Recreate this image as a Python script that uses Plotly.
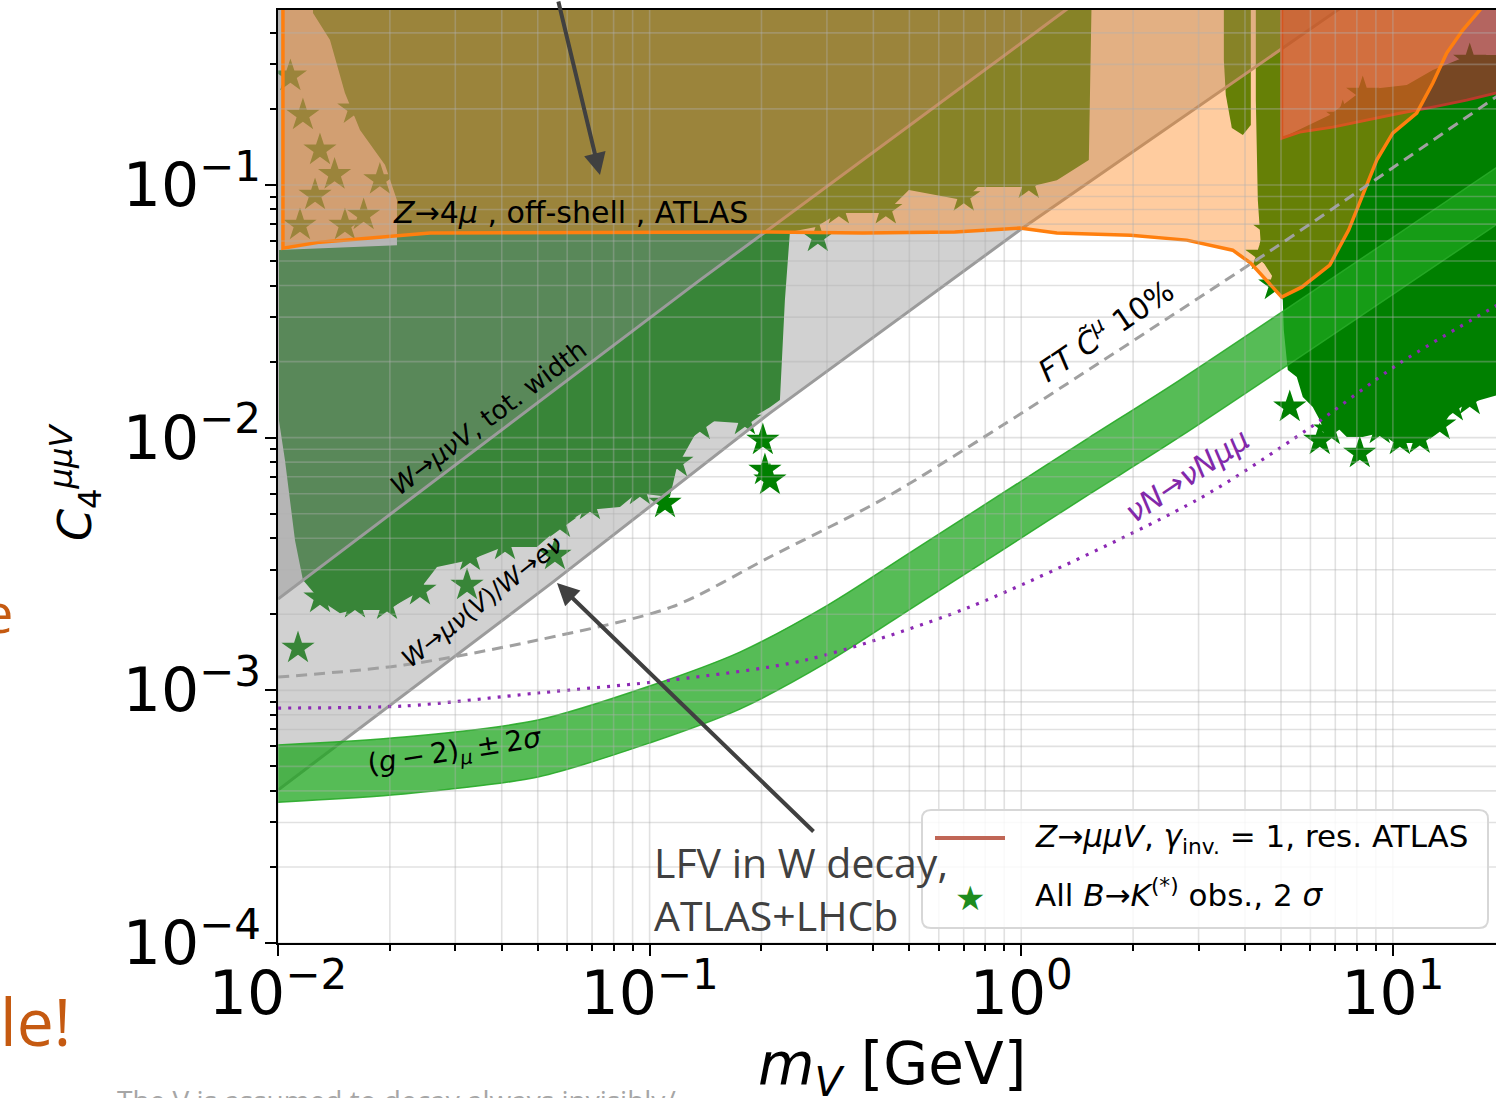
import numpy as np
import plotly.graph_objects as go

# ---------------- data (m_V in GeV, C4 dimensionless) ----------------
# W -> mu nu(V) / W -> e nu  (lower grey line)
w_ratio_m = [0.01, 0.0549, 0.2106, 0.991, 7.10, 20.0]
w_ratio_c = [4.03e-4, 2.68e-3, 1.251e-2, 6.63e-2, 0.492, 1.42]
# W -> mu nu V, total width (upper grey line)
w_width_m = [0.01, 0.1365, 1.285, 5.0]
w_width_c = [2.297e-3, 4.20e-2, 0.479, 2.13]
# fine tuning C~mu 10% (dashed)
ft_m = [0.01, 0.02183, 0.05006, 0.1148, 0.2106, 0.4296, 0.8752, 4.575, 8.77, 20.0]
ft_c = [1.128e-3, 1.259e-3, 1.581e-3, 2.138e-3, 3.37e-3, 5.77e-3, 1.101e-2, 5.37e-2, 0.1026, 0.2355]
# nu N -> nu N mu mu (dotted)
nu_m = [0.01, 0.02183, 0.05006, 0.1148, 0.2632, 0.7270, 2.966, 5.86, 10.43, 20.0]
nu_c = [8.51e-4, 8.67e-4, 9.76e-4, 1.099e-3, 1.318e-3, 2.138e-3, 5.66e-3, 1.072e-2, 1.972e-2, 3.48e-2]
# (g-2)_mu +- 2 sigma band
g2_m = [0.01, 0.02183, 0.05006, 0.1, 0.1749, 0.3016, 0.5140, 0.8752, 1.5295, 2.669, 20.0]
g2_hi = [6.07e-4, 6.53e-4, 7.63e-4, 1.040e-3, 1.417e-3, 2.175e-3, 3.59e-3, 5.93e-3, 1.0055e-2, 1.690e-2, 0.1234]
g2_lo = [3.61e-4, 3.89e-4, 4.54e-4, 6.19e-4, 8.43e-4, 1.295e-3, 2.14e-3, 3.53e-3, 5.99e-3, 1.006e-2, 7.34e-2]
# Z -> 4 mu, off-shell, ATLAS (excluded above)
z4_m = [0.01031, 0.01031, 0.01297, 0.02564, 0.2107, 0.3748, 0.6624, 0.991, 1.247, 1.970, 2.788, 3.707,
        4.143, 4.578, 5.022, 5.683, 6.764, 7.603, 8.402, 9.049, 9.993, 11.59, 12.81, 13.96, 15.42, 17.13, 18.22]
z4_c = [1.0, 0.0562, 0.0594, 0.0645, 0.0651, 0.0645, 0.0651, 0.0675, 0.0645, 0.0633, 0.0605, 0.0552,
        0.0491, 0.0420, 0.0360, 0.0394, 0.0482, 0.0663, 0.0955, 0.1255, 0.1605, 0.1926, 0.2531, 0.3327,
        0.4102, 0.4921, 0.5643]
# Z -> mu mu V, gamma_inv = 1, resonant ATLAS (excluded above)
red_m = [5.024, 5.024, 5.613, 6.887, 8.500, 10.43, 12.79, 15.79, 18.9, 20.0]
red_c = [1.0, 0.1533, 0.1619, 0.1694, 0.1806, 0.1924, 0.2033, 0.2167, 0.2310, 0.235]
# All B -> K(*) observables, 2 sigma: outline of the dense star clouds
cloudA_m = [0.01242, 1.558, 1.520, 1.247, 1.048, 0.7640, 0.7007, 0.4984, 0.4321, 0.3230, 0.2802, 0.2385,
            0.2312, 0.2242, 0.2107, 0.1782, 0.1391, 0.1184, 0.1134, 0.09242, 0.08320, 0.06782, 0.05736,
            0.04972, 0.04031, 0.03287, 0.02678, 0.02365, 0.01965, 0.01591, 0.01468, 0.01297, 0.01167,
            0.01111, 0.01044, 0.01006, 0.01006, 0.02090, 0.02090, 0.01941, 0.01662, 0.01514, 0.01380, 0.01242]
cloudA_c = [1.0, 1.0, 0.1255, 0.1045, 0.0981, 0.0981, 0.0871, 0.0955, 0.0774, 0.0774, 0.0682, 0.0651,
            0.0350, 0.0141, 0.0132, 0.0114, 0.0117, 0.00765, 0.00582, 0.00604, 0.00531, 0.00517, 0.00443,
            0.00369, 0.00369, 0.00328, 0.00308, 0.00243, 0.00208, 0.00208, 0.00202, 0.00228, 0.00273,
            0.00393, 0.00815, 0.0117, 0.0553, 0.0578, 0.0871, 0.1199, 0.1649, 0.2310, 0.3745, 0.4788]
cloudB_m = [4.278, 5.024, 5.024, 6.764, 8.298, 10.90, 12.81, 16.10, 20.0, 20.0, 16.10, 14.50, 13.37, 11.81,
            10.24, 9.219, 8.298, 7.515, 7.064, 6.639, 6.357, 6.087, 5.723, 5.513, 5.214, 5.087, 5.055,
            4.812, 4.440, 4.331, 4.278]
cloudB_c = [1.0, 1.0, 0.1533, 0.1891, 0.2374, 0.2485, 0.2849, 0.3266, 0.3266, 0.01501, 0.01371, 0.01286,
            0.01072, 0.00952, 0.00952, 0.01043, 0.01006, 0.01006, 0.01101, 0.01006, 0.01174, 0.01322,
            0.01447, 0.01737, 0.01851, 0.02666, 0.03503, 0.04204, 0.05043, 0.08714, 0.2168]
cloudC_m = [3.509, 4.147, 4.147, 3.947, 3.687, 3.552, 3.509]
cloudC_c = [1.0, 1.0, 0.1726, 0.1576, 0.1680, 0.2268, 0.3120]
# individual allowed points (stars) around / at the rim of the clouds
star_m = [0.01132, 0.03226, 0.05561, 0.1100, 0.2017, 0.2043, 0.2107, 0.2836, 5.279, 6.357, 8.145,
          0.01297, 0.01611, 0.02410, 0.04081, 0.06909, 0.09417, 0.1365, 0.1805, 6.764, 10.44, 13.37,
          16.10, 0.01167, 0.01297, 0.01258, 0.01514, 0.01146, 4.665, 4.440, 4.812, 7.332, 8.298, 16.10,
          0.1184, 0.05736, 0.03287, 0.01965, 0.3230, 0.4321, 0.7007, 1.048, 11.81, 9.219, 14.50,
          0.01420, 0.01700, 0.01880, 0.01080, 0.01600]
star_c = [0.00147, 0.00261, 0.00343, 0.00551, 0.00978, 0.00744, 0.00680, 0.0622, 0.01322, 0.00978,
          0.00869, 0.00232, 0.00221, 0.00249, 0.00376, 0.00541, 0.00620, 0.01122, 0.01174, 0.01072,
          0.00978, 0.01122, 0.01409, 0.1891, 0.1375, 0.0912, 0.0694, 0.0694, 0.0663, 0.0528, 0.0402,
          0.1857, 0.2310, 0.3120,
          0.00800, 0.00460, 0.00340, 0.00218, 0.0800, 0.0800, 0.0900, 0.1010, 0.00990, 0.01080, 0.01330,
          0.1100, 0.0760, 0.1050, 0.2700, 0.2000]

x_tickvals = [0.01, 0.1, 1, 10]
x_ticktext = ["10<sup>\u22122</sup>", "10<sup>\u22121</sup>", "10<sup>0</sup>", "10<sup>1</sup>"]
y_tickvals = [1e-4, 1e-3, 1e-2, 1e-1]
y_ticktext = ["10<sup>\u22124</sup>", "10<sup>\u22123</sup>", "10<sup>\u22122</sup>", "10<sup>\u22121</sup>"]

legend_labels = ["<i>Z</i>\u2192<i>\u03bc\u03bcV</i>, <i>\u03b3</i><sub>inv.</sub> = 1, res. ATLAS",
                 "All <i>B</i>\u2192<i>K</i><sup>(*)</sup> obs., 2 <i>\u03c3</i>"]

# ---------------- layout geometry ----------------
W, H = 1496, 1098
ML, MR, MT, MB = 278, 0, 10, 155
X_RANGE = [-2.0, 1.2775]
Y_RANGE = [-4.0, -0.3075]
XMAX, YMAX = 10 ** X_RANGE[1], 10 ** Y_RANGE[1]
PW, PH = W - ML - MR, H - MT - MB


def P(xp, yp):
    """canvas pixel -> paper coordinates (text / legend placement only)"""
    return (xp - ML) / PW, (H - MB - yp) / PH


GREEN = "rgb(0,128,0)"
fig = go.Figure()


def poly(xs, ys, color, line=None, shape="linear"):
    ln = line or dict(width=0, color=color)
    ln = dict(ln, shape=shape)
    fig.add_trace(go.Scatter(x=xs, y=ys, mode="lines", fill="toself", fillcolor=color,
                             line=ln, hoverinfo="skip", showlegend=False))


# B -> K(*) star clouds
for cm, cc in [(cloudA_m, cloudA_c), (cloudB_m, cloudB_c), (cloudC_m, cloudC_c)]:
    poly(cm, cc, GREEN)
fig.add_trace(go.Scatter(x=star_m, y=star_c, mode="markers",
                         marker=dict(symbol="star", size=25, color=GREEN, line=dict(width=0)),
                         hoverinfo="skip", showlegend=False))

# grey W-decay regions
poly(w_ratio_m + [w_ratio_m[-1], w_ratio_m[0]], w_ratio_c + [10, 10], "rgba(140,140,140,0.40)")
poly(w_width_m + [w_width_m[-1], w_width_m[0]], w_width_c + [10, 10], "rgba(140,140,140,0.40)")
for mm, cc in [(w_ratio_m, w_ratio_c), (w_width_m, w_width_c)]:
    fig.add_trace(go.Scatter(x=mm, y=cc, mode="lines", line=dict(color="rgb(155,155,155)", width=3),
                             hoverinfo="skip", showlegend=False))

# red: Z -> mu mu V resonant
poly(red_m + [red_m[-1]], red_c + [1.0], "rgba(157,52,46,0.76)")
fig.add_trace(go.Scatter(x=red_m, y=red_c, mode="lines", line=dict(color="rgb(185,58,42)", width=3),
                         hoverinfo="skip", showlegend=False))

# orange: Z -> 4 mu
poly(z4_m, z4_c, "rgba(255,127,14,0.40)")
fig.add_trace(go.Scatter(x=z4_m, y=z4_c, mode="lines", line=dict(color="rgb(255,127,14)", width=3.5),
                         hoverinfo="skip", showlegend=False))

# (g-2) band
fig.add_trace(go.Scatter(x=g2_m, y=g2_lo, mode="lines", line=dict(color="rgba(40,170,40,0.9)", width=1.5,
                                                                   shape="spline", smoothing=0.8),
                         hoverinfo="skip", showlegend=False))
fig.add_trace(go.Scatter(x=g2_m, y=g2_hi, mode="lines", fill="tonexty", fillcolor="rgba(30,165,30,0.75)",
                         line=dict(color="rgba(40,170,40,0.9)", width=1.5, shape="spline", smoothing=0.8),
                         hoverinfo="skip", showlegend=False))

# FT dashed and nu N dotted
fig.add_trace(go.Scatter(x=ft_m, y=ft_c, mode="lines",
                         line=dict(color="rgb(160,160,160)", width=3, dash="11px,7px",
                                   shape="spline", smoothing=0.8),
                         hoverinfo="skip", showlegend=False))
fig.add_trace(go.Scatter(x=nu_m, y=nu_c, mode="lines",
                         line=dict(color="rgb(140,40,180)", width=3.2, dash="3px,7px",
                                   shape="spline", smoothing=0.8),
                         hoverinfo="skip", showlegend=False))

# grid drawn over the shaded regions (as in the original)
gx, gy = [], []
for d in range(-2, 2):
    for k in range(1, 10):
        v = k * 10.0 ** d
        if v < XMAX:
            gx += [v, v, None]
            gy += [1e-6, 10, None]
for d in range(-4, 0):
    for k in range(1, 10):
        v = k * 10.0 ** d
        if v < YMAX:
            gx += [1e-3, 100, None]
            gy += [v, v, None]
fig.add_trace(go.Scatter(x=gx, y=gy, mode="lines", line=dict(color="rgba(175,175,175,0.38)", width=1.6),
                         hoverinfo="skip", showlegend=False))

# ---------------- annotations ----------------
ann = []
shapes = []


def text(xp, yp, s, size, angle=0, color="black", family="DejaVu Sans", xanchor="center",
         yanchor="middle", align="center"):
    xx, yy = P(xp, yp)
    ann.append(dict(x=xx, y=yy, xref="paper", yref="paper", text=s, showarrow=False, textangle=angle,
                    font=dict(size=size, color=color, family=family), xanchor=xanchor, yanchor=yanchor,
                    align=align))


def arrow(head, tail):
    xx, yy = P(*head)
    ann.append(dict(x=xx, y=yy, xref="paper", yref="paper", text="", showarrow=True,
                    ax=tail[0] - head[0], ay=tail[1] - head[1], arrowhead=2, arrowsize=1.1,
                    arrowwidth=4, arrowcolor="#404040"))


text(570, 213, "<i>Z</i>\u21924<i>\u03bc</i> , off-shell , ATLAS", 30)
text(488, 418, "<i>W</i>\u2192<i>\u03bc\u03bdV</i>, tot. width", 26, angle=-37)
text(482, 601, "<i>W</i>\u2192<i>\u03bc\u03bd</i>(<i>V</i>)/<i>W</i>\u2192<i>e\u03bd</i>", 25, angle=-38)
text(1105, 329, "<i>FT</i> <i>C\u0303</i><sup><i>\u03bc</i></sup> 10%", 30, angle=-34)
text(1187, 475, "<i>\u03bdN</i>\u2192<i>\u03bdN\u03bc\u03bc</i>", 30, angle=-34, color="rgb(130,40,170)")
text(455, 752, "(<i>g</i>\u2009\u2212\u20092)<sub><i>\u03bc</i></sub>\u2009\u00b1\u20092<i>\u03c3</i>", 28, angle=-9)
text(652, 888, "LFV in W decay,<br>ATLAS+LHCb", 41, color="#404040", family="Open Sans",
     xanchor="left", align="left")
arrow((557, 583), (815, 833))
arrow((600, 175), (558, -12))

text(75, 482, "<i>C</i><sub>4</sub><sup><i>\u03bc\u03bcV</i></sup>", 46, angle=-90)
text(892, 1068, "<i>m</i><sub><i>V</i></sub> [GeV]", 58)

# pieces of the surrounding slide that show in the crop
text(15, 612, "e", 54, color="#c55a11", family="Open Sans", xanchor="right")
text(-2, 1020, "le!", 66, color="#c55a11", family="Open Sans", xanchor="left")
text(115, 1079, "The V is assumed to decay always invisibly/", 28, color="#a6a6a6", family="Open Sans",
     xanchor="left", yanchor="top")

# legend (rounded box as in the original)
bx0, by0 = P(922, 810)
bx1, by1 = P(1488, 928)
rx, ry = 9 / PW, 9 / PH
shapes.append(dict(
    type="path", xref="paper", yref="paper", layer="above",
    path=(f"M {bx0 + rx} {by0} L {bx1 - rx} {by0} Q {bx1} {by0} {bx1} {by0 - ry} "
          f"L {bx1} {by1 + ry} Q {bx1} {by1} {bx1 - rx} {by1} L {bx0 + rx} {by1} "
          f"Q {bx0} {by1} {bx0} {by1 + ry} L {bx0} {by0 - ry} Q {bx0} {by0} {bx0 + rx} {by0} Z"),
    fillcolor="rgba(255,255,255,0.82)", line=dict(color="rgb(215,215,215)", width=2)))
lx0, ly = P(935, 838)
lx1, _ = P(1005, 838)
shapes.append(dict(type="line", xref="paper", yref="paper", layer="above", x0=lx0, x1=lx1, y0=ly, y1=ly,
                   line=dict(color="rgb(192,102,86)", width=4)))
text(970, 898, "\u2605", 34, color="rgb(30,140,30)")
text(1033, 838, legend_labels[0], 31, xanchor="left")
text(1033, 893, legend_labels[1], 31, xanchor="left")

minor_x = [k * 10.0 ** d for d in range(-2, 2) for k in range(2, 10) if k * 10.0 ** d < XMAX]
minor_y = [k * 10.0 ** d for d in range(-4, 0) for k in range(2, 10) if k * 10.0 ** d < YMAX]

axis_common = dict(type="log", showgrid=False, zeroline=False, showline=True, linecolor="black",
                   linewidth=2, ticks="outside", ticklen=11, tickwidth=2, tickcolor="black",
                   tickfont=dict(size=60, family="DejaVu Sans", color="black"))

fig.update_layout(
    width=W, height=H,
    margin=dict(l=ML, r=MR, t=MT, b=MB, autoexpand=False),
    paper_bgcolor="white", plot_bgcolor="white",
    font=dict(family="DejaVu Sans", color="black"),
    xaxis=dict(range=X_RANGE, mirror=True, tickmode="array", tickvals=x_tickvals, ticktext=x_ticktext,
               ticklabelstandoff=-14,
               minor=dict(tickmode="array", tickvals=minor_x, ticks="outside", ticklen=6, tickwidth=1.5,
                          tickcolor="black", showgrid=False),
               **axis_common),
    yaxis=dict(range=Y_RANGE, mirror=False, tickmode="array", tickvals=y_tickvals, ticktext=y_ticktext,
               ticklabelstandoff=-8,
               minor=dict(tickmode="array", tickvals=minor_y, ticks="outside", ticklen=6, tickwidth=1.5,
                          tickcolor="black", showgrid=False),
               **axis_common),
    annotations=ann,
    shapes=shapes,
    showlegend=False,
)

fig.write_html("out.html", config={"displayModeBar": False},
               post_script="document.body.style.margin='0px';")
